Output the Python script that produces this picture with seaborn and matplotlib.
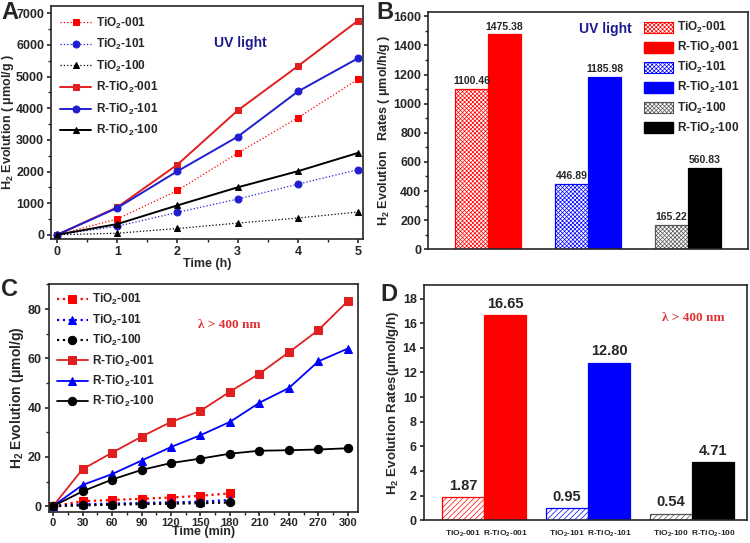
import numpy as np
import pandas as pd
import matplotlib
matplotlib.use('Agg')
import matplotlib.pyplot as plt
import seaborn as sns
from matplotlib.patches import Patch
from matplotlib.ticker import MultipleLocator

# ---- data ----
uv_time = [0, 1, 2, 3, 4, 5]
uv_tio2_001 = [0, 500, 1400, 2580, 3700, 4920]
uv_tio2_101 = [0, 270, 710, 1130, 1600, 2060]
uv_tio2_100 = [0, 50, 200, 370, 530, 720]
uv_rtio2_001 = [0, 870, 2220, 3930, 5330, 6770]
uv_rtio2_101 = [0, 850, 2010, 3100, 4530, 5580]
uv_rtio2_100 = [0, 340, 930, 1500, 2010, 2590]

vis_time_p = [0, 30, 60, 90, 120, 150, 180]
vis_time_r = [0, 30, 60, 90, 120, 150, 180, 210, 240, 270, 300]
vis_tio2_001 = [0, 2.0, 2.5, 3.0, 3.5, 4.2, 5.2]
vis_tio2_101 = [0, 0.8, 1.0, 1.3, 1.5, 1.8, 2.5]
vis_tio2_100 = [0, 0.3, 0.6, 0.8, 1.0, 1.2, 1.5]
vis_rtio2_001 = [0, 15.0, 21.7, 28.2, 34.2, 38.7, 46.5, 53.8, 62.5, 71.5, 83.3]
vis_rtio2_101 = [0, 8.6, 13.0, 18.5, 24.0, 28.8, 34.2, 42.0, 48.0, 58.8, 64.0]
vis_rtio2_100 = [0, 6.0, 10.8, 14.7, 17.5, 19.3, 21.3, 22.5, 22.7, 23.0, 23.5]

facets = ['001', '101', '100']
kinds = ['TiO2', 'R-TiO2']
sample_names = ['TiO$_2$-001', 'R-TiO$_2$-001', 'TiO$_2$-101', 'R-TiO$_2$-101',
                'TiO$_2$-100', 'R-TiO$_2$-100']
uv_rates = [1100.46, 1475.38, 446.89, 1185.98, 165.22, 560.83]
vis_rates = [1.87, 16.65, 0.95, 12.80, 0.54, 4.71]

# ---- style ----
sns.set_style('ticks')
plt.rcParams['font.family'] = ['Liberation Sans', 'DejaVu Sans']
plt.rcParams['font.weight'] = 'bold'
plt.rcParams['axes.labelweight'] = 'bold'
plt.rcParams['mathtext.default'] = 'regular'
plt.rcParams['hatch.linewidth'] = 0.5
plt.rcParams['axes.linewidth'] = 1.2
plt.rcParams['xtick.major.size'] = 3
plt.rcParams['ytick.major.size'] = 3
plt.rcParams['xtick.minor.size'] = 2
plt.rcParams['ytick.minor.size'] = 2
plt.rcParams['xtick.minor.width'] = 1.0
plt.rcParams['ytick.minor.width'] = 1.0

RED = '#ff0000'
RED_L = '#e02020'
BLUE = '#1f1fd0'
BLACK = '#000000'
NAVY = '#1a1a8c'
BAR_COLS = [RED, RED, '#0000ff', '#0000ff', '#555555', BLACK]

fig = plt.figure(figsize=(7.5, 5.43), dpi=100)
axA = fig.add_axes([0.068, 0.560, 0.416, 0.429])
axB = fig.add_axes([0.571, 0.541, 0.426, 0.437])
axC = fig.add_axes([0.065, 0.057, 0.412, 0.420])
axD = fig.add_axes([0.565, 0.042, 0.431, 0.433])

for ax in (axA, axB, axC, axD):
    ax.tick_params(labelsize=9, width=1.2, pad=2)
    for s in ax.spines.values():
        s.set_visible(True)
        s.set_linewidth(1.2)

# ---- panel A ----
a_series = [
    ('TiO$_2$-001', uv_tio2_001, RED, 's', ':', 0.9),
    ('TiO$_2$-101', uv_tio2_101, BLUE, 'o', ':', 0.9),
    ('TiO$_2$-100', uv_tio2_100, BLACK, '^', ':', 0.9),
    ('R-TiO$_2$-001', uv_rtio2_001, RED_L, 's', '-', 1.4),
    ('R-TiO$_2$-101', uv_rtio2_101, BLUE, 'o', '-', 1.4),
    ('R-TiO$_2$-100', uv_rtio2_100, BLACK, '^', '-', 1.4),
]
for name, vals, c, m, ls, lw in a_series:
    sns.lineplot(x=uv_time, y=vals, ax=axA, color=c, marker=m, linestyle=ls,
                 linewidth=lw, markersize=5, markeredgecolor=c, label=name)
axA.set_xlim(-0.1, 5.08)
axA.set_ylim(-130, 7230)
axA.xaxis.set_major_locator(MultipleLocator(1))
axA.xaxis.set_minor_locator(MultipleLocator(0.5))
axA.yaxis.set_major_locator(MultipleLocator(1000))
axA.yaxis.set_minor_locator(MultipleLocator(500))
axA.set_xlabel('Time (h)', fontsize=9, labelpad=0)
axA.set_ylabel('H$_2$ Evolution ( μmol/g )', fontsize=9, labelpad=0)
axA.legend(loc='upper left', frameon=False, fontsize=8.5, handlelength=2.6,
           labelspacing=0.55, borderaxespad=0.4, handletextpad=0.4)
axA.text(0.606, 0.84, 'UV light', transform=axA.transAxes, color=NAVY,
         fontsize=10, ha='center', va='center')


def draw_bars(ax, rates, hatch, width):
    df = pd.DataFrame({'facet': np.repeat(facets, 2), 'kind': kinds * 3, 'rate': rates})
    sns.barplot(data=df, x='facet', y='rate', hue='kind', order=facets, hue_order=kinds,
                width=width, saturation=1, legend=False, ax=ax, errorbar=None)
    bars = sorted(ax.patches, key=lambda p: p.get_x())
    for i, p in enumerate(bars):
        c = BAR_COLS[i]
        p.set_linewidth(0.9)
        if i % 2 == 0:
            p.set_facecolor('white')
            p.set_edgecolor(c)
            p.set_hatch(hatch)
        else:
            p.set_facecolor(c)
            p.set_edgecolor(c)
    return bars


# ---- panel B ----
barsB = draw_bars(axB, uv_rates, 'xxxxxxxx', 0.66)
for cont in axB.containers:
    axB.bar_label(cont, fmt='%.2f', fontsize=7.5, padding=2)
axB.set_xlim(-0.6, 2.6)
axB.set_ylim(0, 1630)
axB.yaxis.set_major_locator(MultipleLocator(200))
axB.yaxis.set_minor_locator(MultipleLocator(100))
axB.set_xticks([])
axB.set_xlabel('')
axB.set_ylabel('H$_2$ Evolution   Rates ( μmol/h/g )', fontsize=9, labelpad=1)
handles = []
for i, name in enumerate(sample_names):
    if i % 2 == 0:
        handles.append(Patch(facecolor='white', edgecolor=BAR_COLS[i], hatch='xxxxxxxx',
                             linewidth=0.8, label=name))
    else:
        handles.append(Patch(facecolor=BAR_COLS[i], edgecolor=BAR_COLS[i], label=name))
axB.legend(handles=handles, loc='upper right', frameon=False, fontsize=8.5,
           handlelength=2.4, handleheight=1.1, labelspacing=0.42,
           borderaxespad=0.3, handletextpad=0.4)
axB.text(0.553, 0.928, 'UV light', transform=axB.transAxes, color=NAVY,
         fontsize=10, ha='center', va='center')

# ---- panel C ----
c_series = [
    ('TiO$_2$-001', vis_time_p, vis_tio2_001, RED, 's', ':'),
    ('TiO$_2$-101', vis_time_p, vis_tio2_101, '#0000ff', '^', ':'),
    ('TiO$_2$-100', vis_time_p, vis_tio2_100, BLACK, 'o', ':'),
    ('R-TiO$_2$-001', vis_time_r, vis_rtio2_001, RED_L, 's', '-'),
    ('R-TiO$_2$-101', vis_time_r, vis_rtio2_101, '#0000ff', '^', '-'),
    ('R-TiO$_2$-100', vis_time_r, vis_rtio2_100, BLACK, 'o', '-'),
]
for name, t, vals, c, m, ls in c_series:
    sns.lineplot(x=t, y=vals, ax=axC, color=c, marker=m, linestyle=ls,
                 linewidth=1.6 if ls == ':' else 1.3, markersize=6,
                 markeredgecolor=c, label=name)
axC.set_xlim(-4.4, 310)
axC.set_ylim(-2.4, 90.2)
axC.xaxis.set_major_locator(MultipleLocator(30))
axC.xaxis.set_minor_locator(MultipleLocator(15))
axC.yaxis.set_major_locator(MultipleLocator(20))
axC.yaxis.set_minor_locator(MultipleLocator(10))
axC.tick_params(axis='x', labelsize=8, pad=1)
axC.set_xlabel('Time (min)', fontsize=9, labelpad=-1)
axC.set_ylabel('H$_2$ Evolution (μmol/g)', fontsize=10, labelpad=1)
axC.legend(loc='upper left', frameon=False, fontsize=8.5, handlelength=2.6,
           labelspacing=0.45, borderaxespad=0.3, handletextpad=0.4)
axC.text(0.583, 0.82, 'λ > 400 nm', transform=axC.transAxes, color='#e03030',
         fontsize=9.5, ha='center', va='center', family='Liberation Serif')

# ---- panel D ----
barsD = draw_bars(axD, vis_rates, '//////', 0.81)
for cont in axD.containers:
    axD.bar_label(cont, fmt='%.2f', fontsize=10.5, padding=3)
axD.set_xlim(-0.58, 2.53)
axD.set_ylim(0, 19.1)
axD.yaxis.set_major_locator(MultipleLocator(2))
axD.set_xticks([p.get_x() + p.get_width() / 2 for p in barsD])
axD.set_xticklabels(sample_names, fontsize=6)
axD.tick_params(axis='x', length=0, pad=6)
axD.set_xlabel('')
axD.set_ylabel('H$_2$ Evolution Rates(μmol/g/h)', fontsize=9.5, labelpad=1)
axD.text(0.833, 0.86, 'λ > 400 nm', transform=axD.transAxes, color='#e03030',
         fontsize=9.5, ha='center', va='center', family='Liberation Serif')

# ---- panel letters ----
fig.text(0.002, 0.998, 'A', fontsize=17, fontweight='bold', va='top')
fig.text(0.502, 0.998, 'B', fontsize=17, fontweight='bold', va='top')
fig.text(0.002, 0.488, 'C', fontsize=17, fontweight='bold', va='top')
fig.text(0.507, 0.478, 'D', fontsize=17, fontweight='bold', va='top')

fig.savefig('out.png', dpi=100)
